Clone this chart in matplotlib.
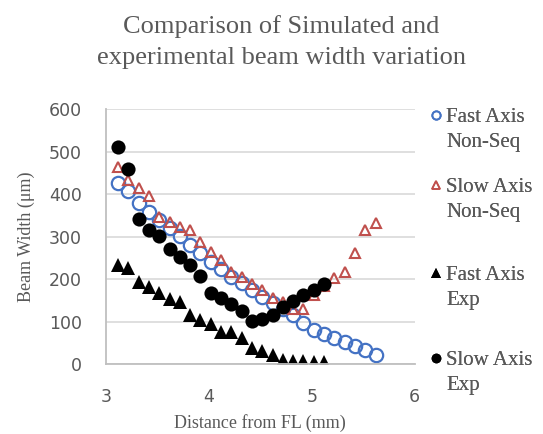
import matplotlib
matplotlib.use("Agg")
import matplotlib.pyplot as plt
from matplotlib.lines import Line2D
from matplotlib.legend_handler import HandlerLine2D

# distance from focal line (mm)
x_sim = [3.12, 3.22, 3.32, 3.42, 3.52, 3.62, 3.72, 3.82, 3.92, 4.02,
         4.12, 4.22, 4.32, 4.42, 4.52, 4.62, 4.72, 4.82, 4.92, 5.02,
         5.12, 5.22, 5.32, 5.42, 5.52, 5.62]
x_exp = [3.12, 3.22, 3.32, 3.42, 3.52, 3.62, 3.72, 3.82, 3.92, 4.02,
         4.12, 4.22, 4.32, 4.42, 4.52, 4.62, 4.72, 4.82, 4.92, 5.02,
         5.12]

# beam widths (um)
fast_sim = [426, 408, 380, 359, 340, 320, 302, 281, 261, 241,
            224, 205, 191, 175, 159, 144, 129, 116, 98, 81,
            71, 61, 53, 43, 34, 22]
slow_sim = [465, 434, 416, 397, 347, 336, 324, 316, 288, 265,
            245, 218, 205, 188, 176, 155, 147, 130, 129, 163,
            185, 202, 218, 263, 316, 332]
fast_exp = [234, 226, 193, 181, 167, 153, 147, 116, 104, 94,
            77, 77, 61, 39, 32, 22, 10, 8, 8, 6, 6]
slow_exp = [511, 459, 341, 316, 302, 271, 252, 234, 207, 168,
            157, 143, 125, 101, 106, 116, 135, 150, 164, 175, 188]

labels = ["Fast Axis\nNon-Seq", "Slow Axis\nNon-Seq", "Fast Axis\nExp", "Slow Axis\nExp"]
legend_y = [0.70, 0.539, 0.336, 0.14]   # figure fraction, centre of each entry

grey = "#595959"
blue = "#4472C4"
red = "#C0504D"
serif = "Liberation Serif"


class TopMarker(HandlerLine2D):
    # put the legend marker on the first text line
    def create_artists(self, legend, orig_handle, xdescent, ydescent,
                       width, height, fontsize, trans):
        arts = super().create_artists(legend, orig_handle, xdescent, ydescent,
                                      width, height, fontsize, trans)
        for a in arts:
            a.set_ydata([y + 0.72 * fontsize for y in a.get_ydata()])
        return arts


fig = plt.figure(figsize=(5.43, 4.34), dpi=100)
ax = fig.add_axes([0.1947, 0.1606, 0.569, 0.5874])

ax.plot(x_sim, fast_sim, "o", ms=9.6, mfc="none", mec=blue, mew=1.6)
ax.plot(x_sim, slow_sim, "^", ms=7.8, mfc="none", mec=red, mew=1.5)
ax.plot(x_exp, fast_exp, "^", ms=10, color="black", mew=0)
ax.plot(x_exp, slow_exp, "o", ms=10.2, color="black", mew=0)

ax.set_xlim(3, 6)
ax.set_ylim(0, 600)
ax.set_xticks([3, 4, 5, 6])
ax.set_yticks(range(0, 601, 100))
ax.yaxis.grid(True, color="#D9D9D9", lw=1.2)
ax.set_axisbelow(True)
for s in ["top", "right"]:
    ax.spines[s].set_visible(False)
for s in ["left", "bottom"]:
    ax.spines[s].set_color("#BFBFBF")
    ax.spines[s].set_linewidth(1.3)
ax.tick_params(length=0, labelsize=12.5, labelcolor=grey)
ax.tick_params(axis="y", pad=17)
ax.tick_params(axis="x", pad=17)

ax.set_xlabel("Distance from FL (mm)", family=serif, fontsize=13, color=grey, labelpad=6)
ax.set_ylabel("Beam Width (\u03bcm)", family=serif, fontsize=13, color=grey, labelpad=10)

fig.text(0.518, 0.938, "Comparison of Simulated and", family=serif, fontsize=19,
         color=grey, ha="center", va="center")
fig.text(0.518, 0.866, "experimental beam width variation", family=serif, fontsize=19,
         color=grey, ha="center", va="center")

handles = [
    Line2D([], [], ls="none", marker="o", ms=6, mfc="none", mec=blue, mew=1.3),
    Line2D([], [], ls="none", marker="^", ms=5.5, mfc="none", mec=red, mew=1.2),
    Line2D([], [], ls="none", marker="^", ms=6.5, color="black", mew=0),
    Line2D([], [], ls="none", marker="o", ms=7, color="black", mew=0),
]
for h, lab, y in zip(handles, labels, legend_y):
    leg = fig.legend([h], [lab], loc="center left", bbox_to_anchor=(0.795, y),
                     frameon=False, prop={"family": serif, "size": 15},
                     labelcolor=grey, handlelength=0.45, handletextpad=0.25,
                     borderaxespad=0, borderpad=0,
                     handler_map={Line2D: TopMarker()})
    for t in leg.get_texts():
        t.set_linespacing(1.45)
    fig.add_artist(leg)

fig.savefig("out.png", dpi=100)
